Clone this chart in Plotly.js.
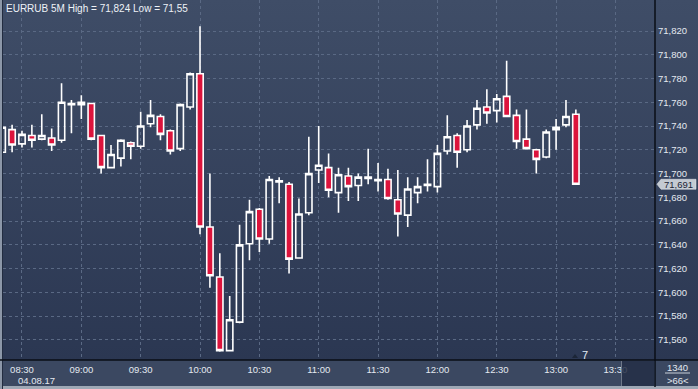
<!DOCTYPE html>
<html><head><meta charset="utf-8">
<script src="https://cdn.plot.ly/plotly-3.0.1.min.js"></script>
<style>
html,body{margin:0;padding:0;background:#2b3752;overflow:hidden;}
#chart{width:698px;height:389px;
background:
 linear-gradient(to right,#8c97a8 0px,#8c97a8 2px,#222c40 2px,#222c40 3px,transparent 3px),
 linear-gradient(to bottom,#3f4d67 0px,#2b3752 360px,#3b4861 360px,#3b4861 386px,#9ea8b5 386px,#9ea8b5 389px);}
</style></head><body><div id="chart"></div>
<script>
const times = [
 '2017-08-04 08:20','2017-08-04 08:25','2017-08-04 08:30','2017-08-04 08:35','2017-08-04 08:40','2017-08-04 08:45',
 '2017-08-04 08:50','2017-08-04 08:55','2017-08-04 09:00','2017-08-04 09:05','2017-08-04 09:10','2017-08-04 09:15',
 '2017-08-04 09:20','2017-08-04 09:25','2017-08-04 09:30','2017-08-04 09:35','2017-08-04 09:40','2017-08-04 09:45',
 '2017-08-04 09:50','2017-08-04 09:55','2017-08-04 10:00','2017-08-04 10:05','2017-08-04 10:10','2017-08-04 10:15',
 '2017-08-04 10:20','2017-08-04 10:25','2017-08-04 10:30','2017-08-04 10:35','2017-08-04 10:40','2017-08-04 10:45',
 '2017-08-04 10:50','2017-08-04 10:55','2017-08-04 11:00','2017-08-04 11:05','2017-08-04 11:10','2017-08-04 11:15',
 '2017-08-04 11:20','2017-08-04 11:25','2017-08-04 11:30','2017-08-04 11:35','2017-08-04 11:40','2017-08-04 11:45',
 '2017-08-04 11:50','2017-08-04 11:55','2017-08-04 12:00','2017-08-04 12:05','2017-08-04 12:10','2017-08-04 12:15',
 '2017-08-04 12:20','2017-08-04 12:25','2017-08-04 12:30','2017-08-04 12:35','2017-08-04 12:40','2017-08-04 12:45',
 '2017-08-04 12:50','2017-08-04 12:55','2017-08-04 13:00','2017-08-04 13:05','2017-08-04 13:10'];
const openV  = [71.718,71.737,71.725,71.732,71.729,71.730,71.728,71.758,71.758,71.759,71.732,71.705,71.713,71.726,71.723,71.742,71.748,71.736,71.721,71.756,
                71.784,71.655,71.613,71.551,71.575,71.641,71.670,71.645,71.693,71.691,71.629,71.667,71.703,71.705,71.684,71.698,71.690,71.696,71.694,71.695,
                71.678,71.665,71.684,71.690,71.689,71.719,71.732,71.720,71.741,71.756,71.753,71.765,71.749,71.729,71.720,71.714,71.737,71.741,71.750];
const highV  = [71.741,71.741,71.736,71.741,71.750,71.738,71.776,71.762,71.766,71.759,71.732,71.724,71.729,71.727,71.752,71.762,71.750,71.737,71.759,71.785,
                71.824,71.700,71.633,71.597,71.657,71.678,71.671,71.698,71.697,71.693,71.679,71.731,71.740,71.717,71.705,71.705,71.700,71.721,71.709,71.704,
                71.703,71.697,71.697,71.712,71.724,71.749,71.734,71.745,71.762,71.771,71.767,71.795,71.754,71.754,71.721,71.737,71.746,71.762,71.754];
const lowV   = [71.716,71.718,71.722,71.722,71.728,71.719,71.726,71.734,71.746,71.728,71.700,71.705,71.706,71.712,71.721,71.739,71.728,71.716,71.719,71.754,
                71.649,71.604,71.550,71.551,71.574,71.627,71.634,71.641,71.675,71.616,71.629,71.665,71.692,71.680,71.667,71.677,71.677,71.691,71.685,71.678,
                71.647,71.655,71.675,71.685,71.684,71.716,71.705,71.718,71.737,71.742,71.743,71.748,71.721,71.721,71.700,71.713,71.720,71.739,71.691];
const closeV = [71.739,71.724,71.733,71.728,71.732,71.724,71.760,71.759,71.760,71.729,71.705,71.716,71.728,71.723,71.740,71.749,71.733,71.719,71.758,71.784,
                71.655,71.614,71.551,71.577,71.640,71.668,71.645,71.695,71.694,71.628,71.666,71.700,71.707,71.686,71.699,71.689,71.697,71.697,71.695,71.679,
                71.666,71.687,71.689,71.691,71.717,71.731,71.718,71.740,71.755,71.751,71.763,71.748,71.727,71.721,71.712,71.735,71.739,71.748,71.691];
const xTickVals = ['2017-08-04 08:30','2017-08-04 09:00','2017-08-04 09:30','2017-08-04 10:00','2017-08-04 10:30','2017-08-04 11:00',
                   '2017-08-04 11:30','2017-08-04 12:00','2017-08-04 12:30','2017-08-04 13:00','2017-08-04 13:30'];
const xTickText = ['08:30','09:00','09:30','10:00','10:30','11:00','11:30','12:00','12:30','13:00','13:30'];
const yTickVals = [71.56,71.58,71.60,71.62,71.64,71.66,71.68,71.70,71.72,71.74,71.76,71.78,71.80,71.82];
const yTickText = ['71,560','71,580','71,600','71,620','71,640','71,660','71,680','71,700','71,720','71,740','71,760','71,780','71,800','71,820'];
const titleText = 'EURRUB 5M High = 71,824 Low = 71,55';
const dateText = '04.08.17';
const boxTop = '1340';
const boxBottom = '>66<';
const markerText = '7';

const W = 652, H = 360;
const px = p => (p - 3) / W;          // pixel x -> paper
const py = p => (H - p) / H;           // pixel y -> paper
const lastClose = closeV[closeV.length - 1];
const lastText = lastClose.toFixed(3).replace('.', ',');
const pxPerUnit = 1188;
const dy = 5 / pxPerUnit;

const trace = {
  type: 'candlestick', x: times, open: openV, high: highV, low: lowV, close: closeV,
  increasing: {line: {color: '#ffffff', width: 1.6}, fillcolor: 'rgba(0,0,0,0)'},
  decreasing: {line: {color: '#ffffff', width: 1.6}, fillcolor: '#dc143c'},
  whiskerwidth: 0, hoverinfo: 'skip', showlegend: false
};

const fontSm = {family: '"Liberation Sans", Arial, sans-serif', size: 9.5, color: '#e4e9f0'};

const layout = {
  width: 698, height: 389,
  margin: {l: 3, r: 43, t: 0, b: 29, pad: 0},
  paper_bgcolor: 'rgba(0,0,0,0)', plot_bgcolor: 'rgba(0,0,0,0)',
  boxgap: 0.36, boxgroupgap: 0,
  showlegend: false,
  font: fontSm,
  xaxis: {
    type: 'date', range: ['2017-08-04 08:20:24', '2017-08-04 13:50:00'],
    rangeslider: {visible: false},
    tickmode: 'array', tickvals: xTickVals, ticktext: xTickText,
    showgrid: true, gridcolor: '#5a6984', griddash: '3px,3px', gridwidth: 1,
    zeroline: false, showline: false, ticks: '', tickfont: fontSm, ticklabelstandoff: 2,
    fixedrange: true
  },
  yaxis: {
    side: 'right', range: [71.5431, 71.8461],
    tickmode: 'array', tickvals: yTickVals, ticktext: yTickText,
    showgrid: true, gridcolor: '#5a6984', griddash: '3px,3px', gridwidth: 1,
    zeroline: false, showline: false, ticks: '', tickfont: fontSm, ticklabelstandoff: 2,
    fixedrange: true
  },
  shapes: [
    {type: 'line', xref: 'paper', yref: 'paper', x0: px(0), x1: px(698), y0: 0, y1: 0, line: {color: '#0a0e16', width: 1.5}},
    {type: 'line', xref: 'paper', yref: 'paper', x0: 1, x1: 1, y0: py(387), y1: py(0), line: {color: '#0a0e16', width: 1.5}},
    {type: 'rect', xref: 'paper', yref: 'paper', x0: px(622), x1: px(654.5), y0: py(386), y1: py(361), fillcolor: 'rgba(36,47,70,0.85)', line: {width: 0}, layer: 'above'},
    {type: 'line', xref: 'paper', yref: 'paper', x0: px(621.5), x1: px(621.5), y0: py(386), y1: py(361), line: {color: '#6e7889', width: 1}},
    {type: 'line', xref: 'paper', yref: 'paper', x0: px(665), x1: px(690), y0: py(373), y1: py(373), line: {color: '#c9d0da', width: 1}},
    {type: 'path', xref: 'paper', yref: 'paper', path: `M ${px(572)},${py(358)} L ${px(578)},${py(358)} L ${px(575)},${py(354)} Z`, fillcolor: '#1c2638', line: {width: 0}},
    {type: 'path', xref: 'paper', yref: 'y',
     path: `M ${px(657)},${lastClose} L ${px(661)},${lastClose + dy} L ${px(696)},${lastClose + dy} L ${px(696)},${lastClose - dy} L ${px(661)},${lastClose - dy} Z`,
     fillcolor: '#c4cad2', line: {color: '#e8ecf0', width: 0.5}, layer: 'above'}
  ],
  annotations: [
    {text: titleText, xref: 'paper', yref: 'paper', x: px(4), y: py(8), xanchor: 'left', yanchor: 'middle', showarrow: false,
     font: {family: fontSm.family, size: 10, color: '#eef2f7'}},
    {text: dateText, xref: 'paper', yref: 'paper', x: px(16), y: py(380), xanchor: 'left', yanchor: 'middle', showarrow: false, font: fontSm},
    {text: boxTop, xref: 'paper', yref: 'paper', x: px(677.5), y: py(367), xanchor: 'center', yanchor: 'middle', showarrow: false, font: fontSm},
    {text: boxBottom, xref: 'paper', yref: 'paper', x: px(677.5), y: py(380), xanchor: 'center', yanchor: 'middle', showarrow: false, font: fontSm},
    {text: markerText, xref: 'paper', yref: 'paper', x: px(585), y: py(355), xanchor: 'center', yanchor: 'middle', showarrow: false,
     font: {family: fontSm.family, size: 11, color: '#e4ecf5'}},
    {text: lastText, xref: 'paper', yref: 'y', x: px(678.5), y: lastClose, xanchor: 'center', yanchor: 'middle', showarrow: false,
     font: {family: fontSm.family, size: 9.5, color: '#1c2436'}}
  ]
};

Plotly.newPlot('chart', [trace], layout, {displayModeBar: false, staticPlot: true});
</script>
</body></html>
